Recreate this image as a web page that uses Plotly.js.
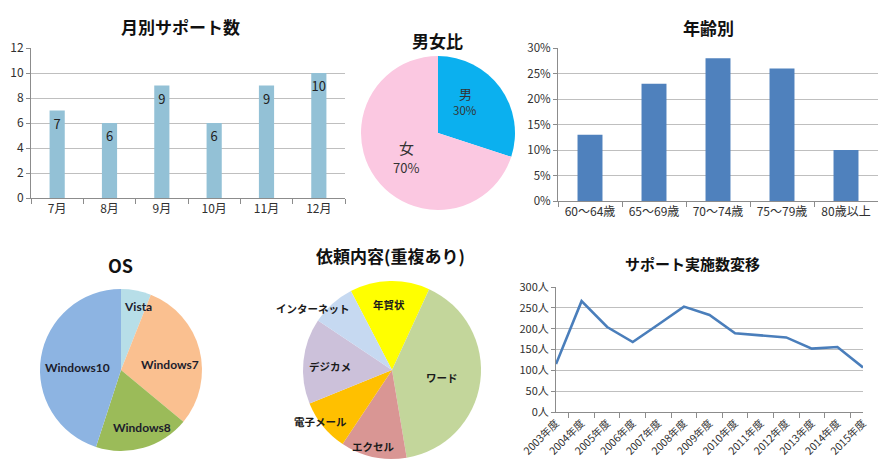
<!DOCTYPE html>
<html><head><meta charset="utf-8">
<script src="https://cdn.plot.ly/plotly-3.0.1.min.js"></script>
<style>html,body{margin:0;padding:0;background:#fff;} #chart{width:879px;height:476px;}</style>
</head><body><div id="chart"></div>
<script>
// ---- data ----
const monthLabels = ['7月','8月','9月','10月','11月','12月'];
const monthValues = [7,6,9,6,9,10];

const genderLabels = ['男','女'];
const genderValues = [30,70];

const ageLabels = ['60～64歳','65～69歳','70～74歳','75～79歳','80歳以上'];
const ageValues = [0.13,0.23,0.28,0.26,0.10];

const osLabels = ['Vista','Windows7','Windows8','Windows10'];
const osValues = [6,30,19,45];

const requestLabels = ['年賀状','ワード','エクセル','電子メール','デジカメ','インターネット'];
const requestValues = [14.5,40.5,12,9.5,15.5,8];

const yearLabels = ['2003年度','2004年度','2005年度','2006年度','2007年度','2008年度','2009年度','2010年度','2011年度','2012年度','2013年度','2014年度','2015年度'];
const yearValues = [115,266,204,168,210,253,233,189,184,179,152,156,107];

const chartTitles = ['月別サポート数','男女比','年齢別','OS','依頼内容(重複あり)','サポート実施数変移'];

// ---- styles / layout helpers ----
const W = 879, H = 476;
const px = x => x / W;
const py = y => 1 - y / H;
const JP = '"Noto Sans CJK JP", "Noto Sans", sans-serif';
const tickFont = {family: JP, size: 12, color: '#303030'};
const axisLine = '#8c8c8c';
const gridCol = '#bfbfbf';

const traces = [
  {type:'bar', x: monthLabels, y: monthValues, xaxis:'x', yaxis:'y', width:0.29,
   marker:{color:'#93c1d6'}, texttemplate:'%{y}', textposition:'inside',
   insidetextanchor:'end', textangle:0, constraintext:'none',
   insidetextfont:{family: JP, size:13, color:'#222'}, hoverinfo:'skip'},
  {type:'bar', x: ageLabels, y: ageValues, xaxis:'x2', yaxis:'y2', width:0.39,
   marker:{color:'#4f81bd'}, hoverinfo:'skip'},
  {type:'scatter', mode:'lines', x: yearLabels, y: yearValues, xaxis:'x3', yaxis:'y3',
   line:{color:'#4a7ebb', width:2.6}, hoverinfo:'skip'},
  {type:'pie', labels: genderLabels, values: genderValues, sort:false, direction:'clockwise', rotation:0,
   marker:{colors:['#0bb0ef','#fbc8e1']}, textinfo:'none', hoverinfo:'skip',
   domain:{x:[px(361),px(515)], y:[py(210),py(56)]}},
  {type:'pie', labels: osLabels, values: osValues, sort:false, direction:'clockwise', rotation:0,
   marker:{colors:['#b7dee8','#fac090','#9bbb59','#8db4e2']}, textinfo:'none', hoverinfo:'skip',
   domain:{x:[px(40),px(202)], y:[py(451),py(289)]}},
  {type:'pie', labels: requestLabels, values: requestValues, sort:false, direction:'clockwise', rotation:-27.5,
   marker:{colors:['#ffff00','#c3d69b','#d99694','#ffc000','#ccc1da','#c6d9f1']}, textinfo:'none', hoverinfo:'skip',
   domain:{x:[px(303),px(481)], y:[py(459),py(281)]}}
];

function catX(domain, anchor){
  return {domain:domain, anchor:anchor, type:'category', tickson:'boundaries', ticks:'outside', ticklen:5,
    tickcolor:axisLine, showline:true, linecolor:axisLine, showgrid:false, zeroline:false,
    tickfont:tickFont, fixedrange:true};
}
function valY(domain, anchor, extra){
  return Object.assign({domain:domain, anchor:anchor, showgrid:true, gridcolor:gridCol, gridwidth:1,
    showline:true, linecolor:axisLine, ticks:'outside', ticklen:4, tickcolor:axisLine,
    zeroline:false, tickfont:tickFont, fixedrange:true}, extra);
}

const annotations = [];
function note(text, x, y, font){
  annotations.push({text:text, x:px(x), y:py(y), xref:'paper', yref:'paper', showarrow:false,
    xanchor:'center', yanchor:'middle', font:font});
}
// chart titles
const titlePos = [[180,26,17],[437,40,17],[708,27,17],[120,265,18],[390,255,17],[692,263,15]];
chartTitles.forEach((t,i)=> note('<b>'+t+'</b>', titlePos[i][0], titlePos[i][1], {family:JP, size:titlePos[i][2], color:'#111'}));
// gender labels: [x, labelY, labelSize, pctY, pctSize]
const genderPos = [[465,94,13,110,11.5],[406,147,15,167,13]];
const gTot = genderValues.reduce((a,b)=>a+b,0);
genderLabels.forEach((l,i)=>{
  const p = genderPos[i];
  note(l, p[0], p[1], {family:JP, size:p[2], color:'#333'});
  note(Math.round(genderValues[i]/gTot*100)+'%', p[0], p[3], {family:JP, size:p[4], color:'#333'});
});
// OS labels
const osPos = [[138,306],[170,364],[142,427],[77,367]];
osLabels.forEach((l,i)=> note('<b>'+l+'</b>', osPos[i][0], osPos[i][1], {family:'Lato, "Noto Sans", sans-serif', size:12, color:'#1c1c2c'}));
// request labels
const reqPos = [[389,304],[442,377],[373,446],[320,421],[330,366],[313,308]];
requestLabels.forEach((l,i)=> note('<b>'+l+'</b>', reqPos[i][0], reqPos[i][1], {family:JP, size:10.5, color:'#1a1a1a'}));

const layout = {
  width:W, height:H, margin:{l:0,r:0,t:0,b:0}, paper_bgcolor:'#fff', plot_bgcolor:'#fff',
  showlegend:false, font:{family:JP},
  xaxis: catX([px(31),px(345)], 'y'),
  yaxis: valY([py(198),py(48)], 'x', {range:[0,12], dtick:2}),
  xaxis2: catX([px(558),px(878)], 'y2'),
  yaxis2: valY([py(201),py(48)], 'x2', {range:[0,0.30], dtick:0.05, tickformat:'.0%', tickfont:Object.assign({},tickFont,{size:11.5})}),
  xaxis3: Object.assign(catX([px(556),px(863)], 'y3'), {tickangle:-45, tickfont:Object.assign({},tickFont,{size:10.5})}),
  yaxis3: valY([py(412),py(287)], 'x3', {range:[0,300], dtick:50, ticksuffix:'人', tickfont:Object.assign({},tickFont,{size:11})}),
  annotations: annotations
};

Plotly.newPlot('chart', traces, layout, {staticPlot:true, displayModeBar:false});
</script>
</body></html>
